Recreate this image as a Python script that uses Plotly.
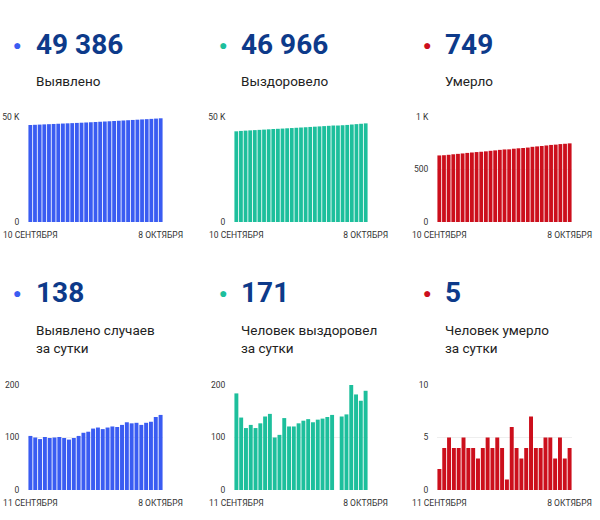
import plotly.graph_objects as go

# dates (top charts: 10 Sep - 8 Oct, bottom: 11 Sep - 8 Oct)
dates_total = ["09-10", "09-11", "09-12", "09-13", "09-14", "09-15", "09-16", "09-17",
               "09-18", "09-19", "09-20", "09-21", "09-22", "09-23", "09-24", "09-25",
               "09-26", "09-27", "09-28", "09-29", "09-30", "10-01", "10-02", "10-03",
               "10-04", "10-05", "10-06", "10-07", "10-08"]
dates_daily = dates_total[1:]

total_cases = [46184, 46287, 46387, 46484, 46585, 46684, 46784, 46885, 46984, 47080,
               47179, 47282, 47391, 47502, 47619, 47738, 47854, 47973, 48094, 48214,
               48338, 48467, 48594, 48722, 48846, 48974, 49104, 49243, 49386]
total_recovered = [43188, 43372, 43510, 43628, 43752, 43870, 43997, 44137, 44282, 44382,
                   44487, 44624, 44745, 44866, 44993, 45125, 45260, 45389, 45523, 45659,
                   45798, 45941, 45941, 46081, 46225, 46425, 46607, 46777, 46966]
total_deaths = [634, 636, 640, 645, 649, 653, 658, 662, 666, 669, 673, 678, 682, 687, 691,
                692, 698, 702, 705, 709, 716, 720, 724, 729, 734, 737, 742, 745, 749]

daily_cases = [103, 100, 97, 101, 99, 100, 101, 99, 96, 99, 103, 109, 111, 117, 119, 116,
               119, 121, 120, 124, 129, 127, 128, 124, 128, 130, 139, 143]
daily_recovered = [184, 138, 118, 124, 118, 127, 140, 145, 100, 105, 137, 121, 121, 127,
                   132, 135, 129, 134, 136, 139, 143, 0, 140, 144, 200, 182, 170, 189]
daily_deaths = [2, 4, 5, 4, 4, 5, 4, 4, 3, 4, 5, 4, 5, 4, 1, 6, 4, 3, 4, 7, 4, 4, 5, 5, 3,
                5, 3, 4]

headline_values = ["49 386", "46 966", "749", "138", "171", "5"]
headline_labels = ["Выявлено", "Выздоровело", "Умерло",
                   "Выявлено случаев<br>за сутки", "Человек выздоровел<br>за сутки",
                   "Человек умерло<br>за сутки"]

xtick_top = ["10 СЕНТЯБРЯ", "8 ОКТЯБРЯ"]
xtick_bottom = ["11 СЕНТЯБРЯ", "8 ОКТЯБРЯ"]

BLUE = "#3a5cf2"
GREEN = "#1dbf9c"
RED = "#cc0f1c"
NAVY = "#0d3a8a"

W, H = 600, 520


def px(x):
    return x / W


def py(y):
    return 1 - y / H


col_x = [(28, 163), (234, 368), (437, 572)]
row_y = [(117, 222), (385, 490)]

panels = [
    (dates_total, total_cases, BLUE, [0, 50000], ["0", "50 K"], xtick_top),
    (dates_total, total_recovered, GREEN, [0, 50000], ["0", "50 K"], xtick_top),
    (dates_total, total_deaths, RED, [0, 500, 1000], ["0", "500", "1 K"], xtick_top),
    (dates_daily, daily_cases, BLUE, [0, 100, 200], ["0", "100", "200"], xtick_bottom),
    (dates_daily, daily_recovered, GREEN, [0, 100, 200], ["0", "100", "200"], xtick_bottom),
    (dates_daily, daily_deaths, RED, [0, 5, 10], ["0", "5", "10"], xtick_bottom),
]

fig = go.Figure()
layout = {}
tickfont = dict(family="Roboto, Arial", size=8.5, color="#333")

for i, (xs, ys, color, yt, ytext, xt) in enumerate(panels):
    r, c = divmod(i, 3)
    n = "" if i == 0 else str(i + 1)
    fig.add_trace(go.Bar(x=xs, y=ys, marker=dict(color=color, line=dict(width=0)),
                         xaxis="x" + n, yaxis="y" + n, showlegend=False))
    x0, x1 = col_x[c]
    y0, y1 = row_y[r]
    layout["xaxis" + n] = dict(
        domain=[px(x0), px(x1)], type="category", anchor="y" + n,
        tickvals=[xs[0], xs[-1]], ticktext=xt, tickfont=tickfont,
        showgrid=False, zeroline=False, showline=False, automargin=False,
        ticks="outside", ticklen=5, tickcolor="rgba(0,0,0,0)",
        range=[-0.5, len(xs) - 0.5])
    layout["yaxis" + n] = dict(
        domain=[py(y1), py(y0)], anchor="x" + n,
        range=[0, yt[-1]], tickvals=yt, ticktext=ytext, tickfont=tickfont,
        showgrid=True, gridcolor="#eeeeee", zeroline=False, showline=False,
        automargin=False,
        ticks="outside", ticklen=6, tickcolor="rgba(0,0,0,0)")

fig.update_layout(**layout)

dot_colors = [BLUE, GREEN, RED, BLUE, GREEN, RED]
dot_x = [17, 223, 427, 17, 223, 427]
text_x = [34, 239, 443, 34, 239, 443]
num_y = [44, 44, 44, 292, 292, 292]
lab_y = [81, 81, 81, 339, 339, 339]

annotations = []
for i in range(6):
    annotations.append(dict(x=px(dot_x[i]), y=py(num_y[i]), xref="paper", yref="paper",
                            text="●", showarrow=False, xanchor="center", yanchor="middle",
                            font=dict(size=14, color=dot_colors[i])))
    annotations.append(dict(x=px(text_x[i]), y=py(num_y[i]), xref="paper", yref="paper",
                            text="<b>%s</b>" % headline_values[i], showarrow=False,
                            xanchor="left", yanchor="middle",
                            font=dict(family="Roboto, Arial", size=28, color=NAVY)))
    annotations.append(dict(x=px(text_x[i]), y=py(lab_y[i]), xref="paper", yref="paper",
                            text=headline_labels[i], showarrow=False, align="left",
                            xanchor="left", yanchor="middle",
                            font=dict(family="Roboto, Arial", size=13.5, color="#222")))

fig.update_layout(
    width=W, height=H,
    margin=dict(l=0, r=0, t=0, b=0),
    paper_bgcolor="white", plot_bgcolor="white",
    bargap=0.18,
    annotations=annotations,
)

# drop the page's default body margin so the figure fills the window
fig.write_html("out.html", config={"displayModeBar": False},
               post_script="document.body.style.margin='0';")
